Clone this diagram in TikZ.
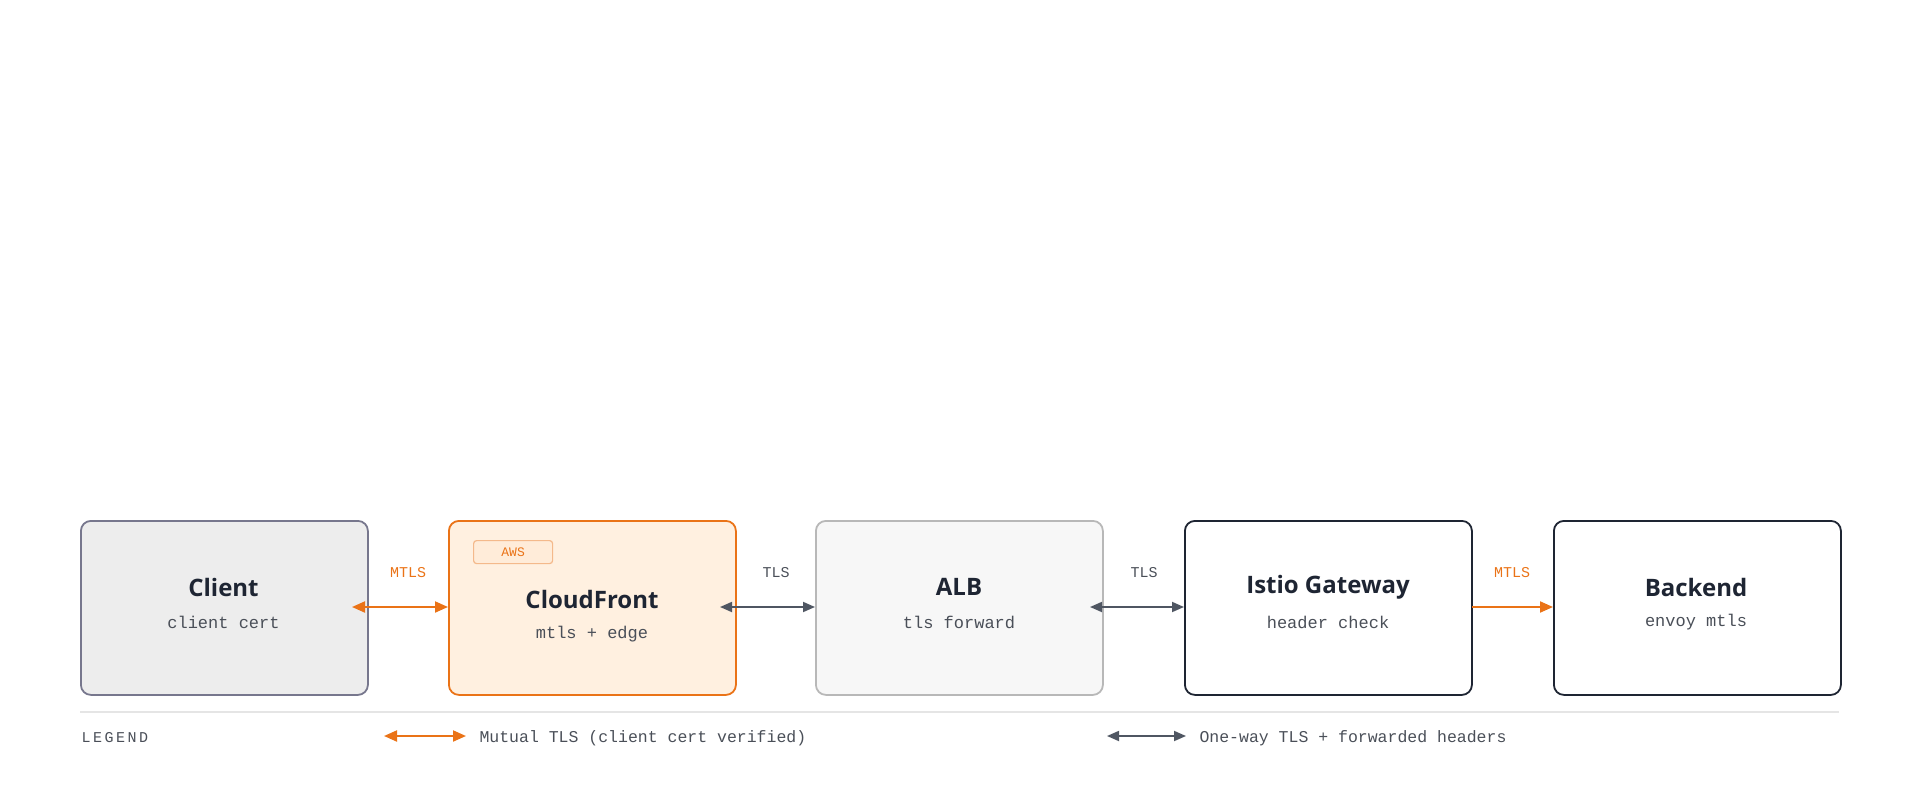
\documentclass[tikz,border=0pt]{standalone}
\usepackage{fontspec}
\setmainfont{Open Sans}
\newfontfamily\monof{Liberation Mono}
\usetikzlibrary{arrows.meta}
\definecolor{org}{HTML}{EA7317}
\definecolor{gry}{HTML}{4F5662}
\definecolor{dark}{HTML}{1E2533}
\definecolor{sub}{HTML}{4A4F58}
\begin{document}
\begin{tikzpicture}[x=1pt,y=-1pt,
 box/.style={draw,rounded corners=10pt,line width=1.8pt,minimum width=287pt,minimum height=174pt,anchor=north west},
 ttl/.style={font=\fontsize{24}{26}\selectfont\bfseries,text=dark},
 sb/.style={font=\monof\fontsize{17}{19}\selectfont,text=sub},
 lbl/.style={font=\monof\fontsize{15}{17}\selectfont},
 oa/.style={draw=org,line width=2pt,-{Triangle[length=13pt,width=11pt]}},
 ob/.style={draw=org,line width=2pt,{Triangle[length=13pt,width=11pt]}-{Triangle[length=13pt,width=11pt]}},
 gb/.style={draw=gry,line width=1.8pt,{Triangle[length=12pt,width=10pt]}-{Triangle[length=12pt,width=10pt]}}]
\useasboundingbox (0,0) rectangle (1920,800);
\node[box,draw=gray!80!blue!60!black!70,fill=black!7] (c) at (80,520) {};
\node[box,draw=org,fill=orange!12!white] (cf) at (448,520) {};
\node[box,draw=black!28,fill=black!3] (alb) at (815,520) {};
\node[box,draw=dark,fill=white] (ist) at (1184,520) {};
\node[box,draw=dark,fill=white] (be) at (1553,520) {};
\node[draw=org!50,fill=orange!15,rounded corners=3pt,line width=1.2pt,minimum width=79pt,minimum height=23pt,anchor=north west,lbl,text=org,font=\monof\fontsize{13}{15}\selectfont] (aws) at (473,540) {AWS};
\node[ttl] (ct) at (223.5,587) {Client};
\node[sb] (cs) at (223.5,622) {client cert};
\node[ttl] (cft) at (592,599) {CloudFront};
\node[sb] (cfs) at (592,634) {mtls + edge};
\node[ttl] (at) at (959,587) {ALB};
\node[ttl,anchor=center] (it) at (1328,587) {Istio Gateway};
\node[ttl] (bt) at (1696,587) {Backend};
\node[sb] (as) at (959,622) {tls forward};
\node[sb] (is) at (1328,622) {header check};
\node[sb] (bs) at (1696,622) {envoy mtls};
\coordinate (a1) at (352,607); \coordinate (a2) at (448,607);
\coordinate (b1) at (720,607); \coordinate (b2) at (815,607);
\coordinate (d1) at (1090,607); \coordinate (d2) at (1184,607);
\coordinate (e1) at (1472,607); \coordinate (e2) at (1553,607);
\draw[ob] (a1) -- (a2); \draw[gb] (b1) -- (b2); \draw[gb] (d1) -- (d2); \draw[oa] (e1) -- (e2);
\node[lbl,text=org] (l1) at (408,573) {MTLS};
\node[lbl,text=sub] (l2) at (776,573) {TLS};
\node[lbl,text=sub] (l3) at (1144,573) {TLS};
\node[lbl,text=org] (l4) at (1512,573) {MTLS};
\coordinate (s1) at (80,712); \coordinate (s2) at (1839,712);
\draw[black!10,line width=1.2pt] (s1) -- (s2);
\node[lbl,text=sub,anchor=west] (lg) at (78,738) {L\,E\,G\,E\,N\,D};
\coordinate (m1) at (384,736); \coordinate (m2) at (466,736);
\draw[ob] (m1) -- (m2);
\node[sb,anchor=west,font=\monof\fontsize{16.5}{18}\selectfont] (mt) at (476,738) {Mutual TLS (client cert verified)};
\coordinate (g1) at (1107,736); \coordinate (g2) at (1186,736);
\draw[gb] (g1) -- (g2);
\node[sb,anchor=west,font=\monof\fontsize{16.5}{18}\selectfont] (gt) at (1196,738) {One-way TLS + forwarded headers};
\end{tikzpicture}
\end{document}
